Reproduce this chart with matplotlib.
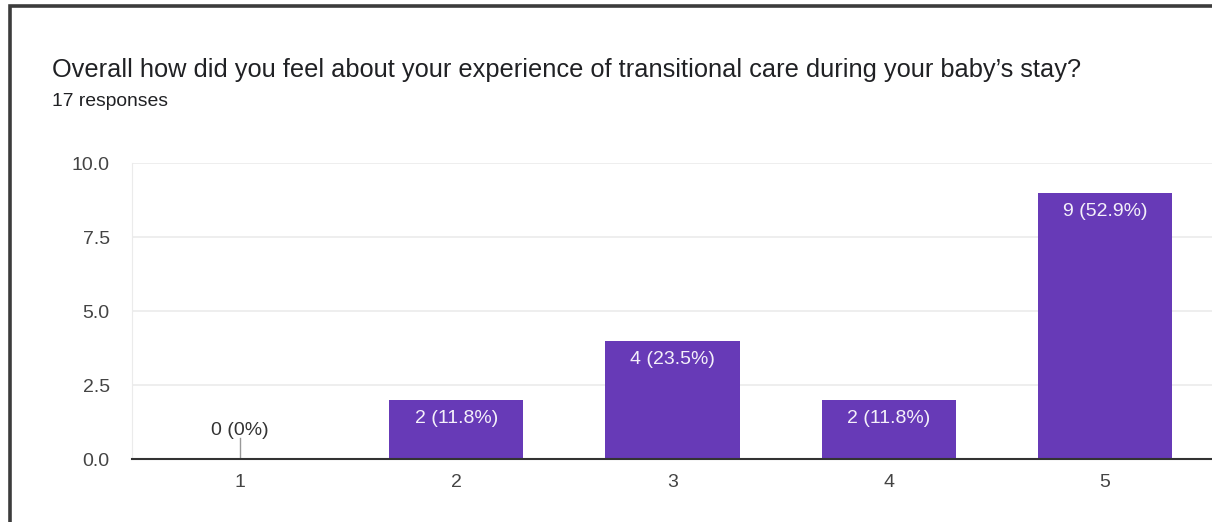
import matplotlib.pyplot as plt
from matplotlib.patches import Rectangle

plt.rcParams['font.family'] = ['Liberation Sans', 'DejaVu Sans']

categories = ["1", "2", "3", "4", "5"]
counts = [0, 2, 4, 2, 9]
percents = ["0%", "11.8%", "23.5%", "11.8%", "52.9%"]
yticks = [0.0, 2.5, 5.0, 7.5, 10.0]

title = "Overall how did you feel about your experience of transitional care during your baby\u2019s stay?"
subtitle = "17 responses"

W, H = 1212, 522
fig = plt.figure(figsize=(W / 100, H / 100), dpi=100)

# card border (left and top edges visible)
fig.patches.append(Rectangle((9.5 / W, -0.1), 1.2, (H - 5.5) / H + 0.1,
                             transform=fig.transFigure, fill=False,
                             edgecolor="#3c3c3c", linewidth=2.6))

ax = fig.add_axes([132 / W, 1 - 459 / H, 1081 / W, 296 / H])

x = range(len(categories))
ax.bar(x, counts, width=0.62, color="#673ab7", zorder=3)

for i, (c, p) in enumerate(zip(counts, percents)):
    if c > 0:
        ax.text(i, c - 0.34, f"{c} ({p})", ha="center", va="top",
                color="#f4f0fa", fontsize=14, zorder=4)
    else:
        ax.plot([i, i], [0, 0.7], color="#999999", linewidth=1, zorder=4)
        ax.text(i, 0.66, f"{c} ({p})", ha="center", va="bottom",
                color="#333333", fontsize=14, zorder=4)

ax.set_xlim(-0.5, 4.5)
ax.set_ylim(0, 10)
ax.set_yticks(yticks)
ax.set_yticklabels([f"{v:.1f}" for v in yticks])
ax.set_xticks(list(x))
ax.set_xticklabels(categories)
ax.tick_params(axis="both", length=0, labelsize=14, labelcolor="#444444")
ax.tick_params(axis="y", pad=16)
ax.tick_params(axis="x", pad=11)
ax.grid(axis="y", color="#ebebeb", linewidth=1.2, zorder=0)
for s in ["top", "right"]:
    ax.spines[s].set_visible(False)
ax.spines["left"].set_color("#ebebeb")
ax.spines["bottom"].set_color("#333333")
ax.spines["bottom"].set_linewidth(1.5)
ax.spines["bottom"].set_zorder(5)

fig.text(52 / W, 1 - 70 / H, title, ha="left", va="center",
         fontsize=18.3, color="#202124")
fig.text(52 / W, 1 - 101 / H, subtitle, ha="left", va="center",
         fontsize=13.9, color="#202124")

fig.savefig("out.png", dpi=100, facecolor="white")
